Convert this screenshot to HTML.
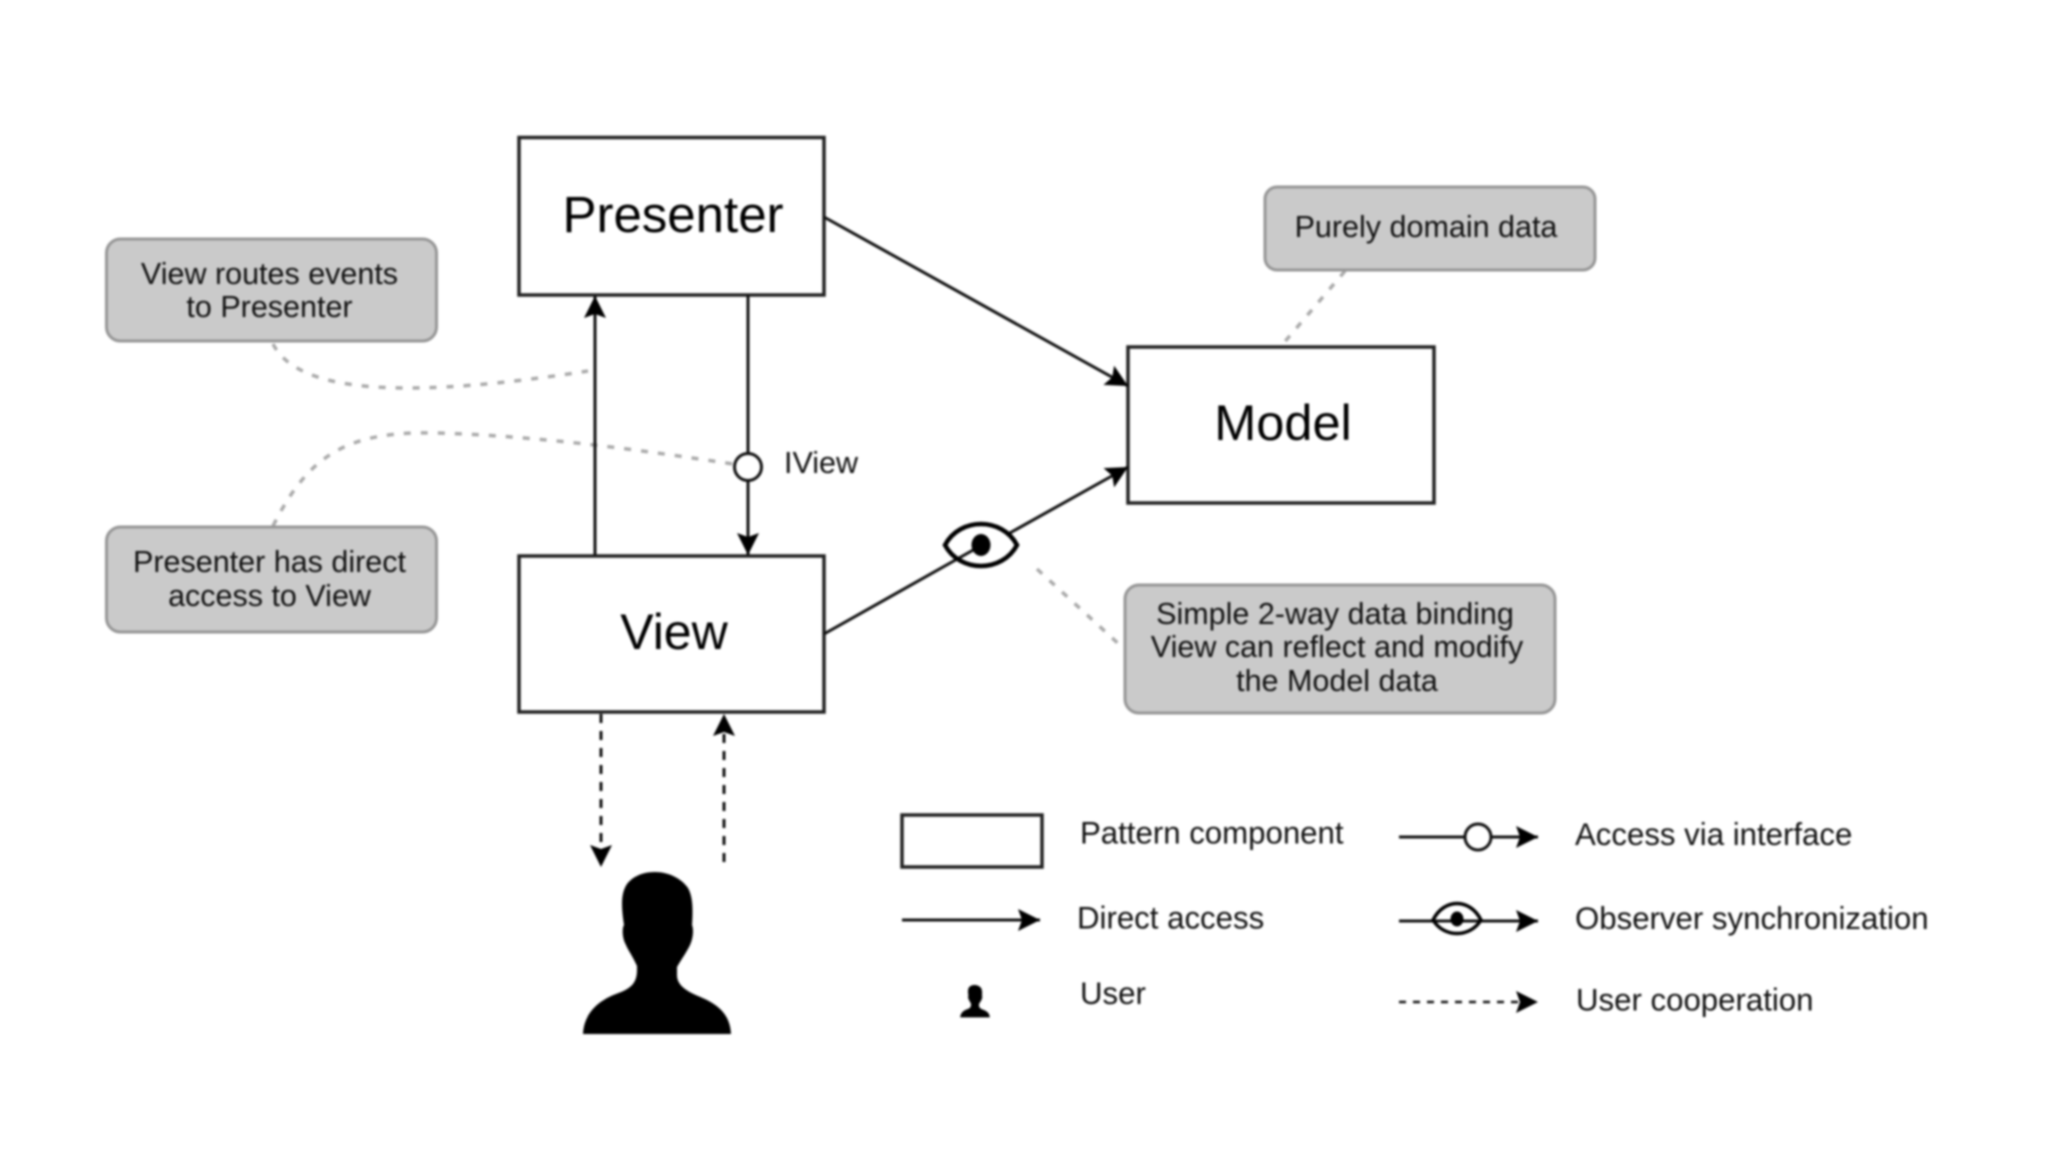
<!DOCTYPE html>
<html>
<head>
<meta charset="utf-8">
<style>
html,body{margin:0;padding:0;background:#fff;width:2048px;height:1152px;overflow:hidden}
svg{display:block;filter:blur(1.1px)}
text{font-family:"Liberation Sans",sans-serif;fill:#111}
.big{font-size:50px;text-anchor:middle;fill:#000}
.note{font-size:30.5px;text-anchor:middle;fill:#111}
.leg{font-size:31.2px;fill:#111}
.box{fill:#fff;stroke:#222;stroke-width:3.5}
.call{fill:#cacaca;stroke:#969696;stroke-width:3}
.ln{fill:none;stroke:#111;stroke-width:3}
.dash{fill:none;stroke:#111;stroke-width:3;stroke-dasharray:9 8}
.dot{fill:none;stroke:#aaa;stroke-width:3.5;stroke-dasharray:7 10}
</style>
</head>
<body>
<svg width="2048" height="1152" viewBox="0 0 2048 1152" xmlns="http://www.w3.org/2000/svg">
<defs>
<marker id="a" markerUnits="userSpaceOnUse" markerWidth="24" markerHeight="24" refX="22" refY="11" orient="auto" viewBox="0 0 24 24">
<path d="M22 11L0 0L4 11L0 22Z" fill="#000"/>
</marker>
</defs>
<rect width="2048" height="1152" fill="#fff"/>

<!-- callout leaders -->
<path class="dot" d="M273 344C300 397 420 397 588 371"/>
<path class="dot" d="M273 526C310 452 350 431 437 433C540 436 640 450 733 464"/>
<path class="dot" d="M1345 271L1282 345"/>
<path class="dot" d="M1037 569L1122 647"/>

<!-- callouts -->
<rect class="call" x="106.5" y="239" width="330" height="102" rx="14"/>
<rect class="call" x="106.5" y="527" width="330" height="105" rx="14"/>
<rect class="call" x="1265" y="187" width="330" height="83" rx="12"/>
<rect class="call" x="1125" y="585" width="430" height="128" rx="14"/>

<text class="note" x="269.5" y="284">View routes events</text>
<text class="note" x="269.5" y="317">to Presenter</text>
<text class="note" x="269.5" y="572">Presenter has direct</text>
<text class="note" x="269.5" y="606">access to View</text>
<text class="note" x="1426" y="237">Purely domain data</text>
<text class="note" x="1335" y="624">Simple 2-way data binding</text>
<text class="note" x="1337" y="657">View can reflect and modify</text>
<text class="note" x="1337" y="691">the Model data</text>

<!-- boxes -->
<rect class="box" x="519" y="137.500" width="305" height="157.500"/>
<rect class="box" x="519" y="556" width="305" height="156"/>
<rect class="box" x="1128" y="347" width="306" height="156"/>
<text class="big" x="673" y="232" style="font-size:51px">Presenter</text>
<text class="big" x="674" y="649">View</text>
<text class="big" x="1283" y="440" style="font-size:50.500px">Model</text>

<!-- connectors -->
<path class="ln" d="M595 555V296" marker-end="url(#a)"/>
<path class="ln" d="M748 295V453"/>
<path class="ln" d="M748 481V555" marker-end="url(#a)"/>
<circle cx="748" cy="467" r="13.500" fill="#fff" stroke="#111" stroke-width="3"/>
<text class="note" x="784" y="473" style="text-anchor:start">IView</text>
<path class="ln" d="M824 217L1128 386" marker-end="url(#a)"/>
<path class="ln" d="M824 634L975 549"/>
<path class="ln" d="M1008 534L1128 467" marker-end="url(#a)"/>
<path d="M945 545C960 517 1002 517 1017 545C1002 573 960 573 945 545Z" fill="none" stroke="#000" stroke-width="4.500"/>
<ellipse cx="981" cy="545" rx="9.500" ry="11" fill="#000"/>

<!-- dashed user arrows -->
<path class="dash" d="M601 714V867" marker-end="url(#a)"/>
<path class="dash" d="M724 862V714" marker-end="url(#a)"/>

<!-- user -->
<path fill="#000" d="M583 1034C584 1012 600 1000 616 994C630 989 637 984 637 970L637 966C632 955 628 950 626 945C622 938 622 928 624 925C621 905 621 893 627 884C634 875 645 872 655 872C668 872 681 878 688 888C693 897 693 910 692 925C694 930 693 940 689 947C686 953 681 960 677 967L677 975C677 984 684 990 698 996C715 1003 730 1012 731 1034Z"/>

<!-- legend left -->
<rect class="box" x="902" y="815" width="140" height="52"/>
<text class="leg" x="1080" y="843.500">Pattern component</text>
<path class="ln" d="M902 920H1040" marker-end="url(#a)"/>
<text class="leg" x="1077" y="928.500">Direct access</text>
<g transform="translate(975 985) scale(0.2) translate(-657 -872)">
<path fill="#000" d="M583 1034C584 1012 600 1000 616 994C630 989 637 984 637 970L637 966C632 955 628 950 626 945C622 938 622 928 624 925C621 905 621 893 627 884C634 875 645 872 655 872C668 872 681 878 688 888C693 897 693 910 692 925C694 930 693 940 689 947C686 953 681 960 677 967L677 975C677 984 684 990 698 996C715 1003 730 1012 731 1034Z"/>
</g>
<text class="leg" x="1080" y="1004">User</text>

<!-- legend right -->
<path class="ln" d="M1399 837H1538" marker-end="url(#a)"/>
<circle cx="1478" cy="837" r="13" fill="#fff" stroke="#111" stroke-width="3"/>
<text class="leg" x="1575" y="845">Access via interface</text>
<path class="ln" d="M1399 921H1538" marker-end="url(#a)"/>
<path d="M1433 920C1444 898 1470 898 1481 920C1470 938 1444 938 1433 920Z" fill="none" stroke="#000" stroke-width="3.500"/>
<ellipse cx="1457" cy="919" rx="6.500" ry="7.500" fill="#000"/>
<text class="leg" x="1575" y="929">Observer synchronization</text>
<path class="dash" d="M1399 1002H1538" style="stroke-width:2.500;stroke-dasharray:7 7" marker-end="url(#a)"/>
<text class="leg" x="1576" y="1010.500">User cooperation</text>
</svg>
</body>
</html>
